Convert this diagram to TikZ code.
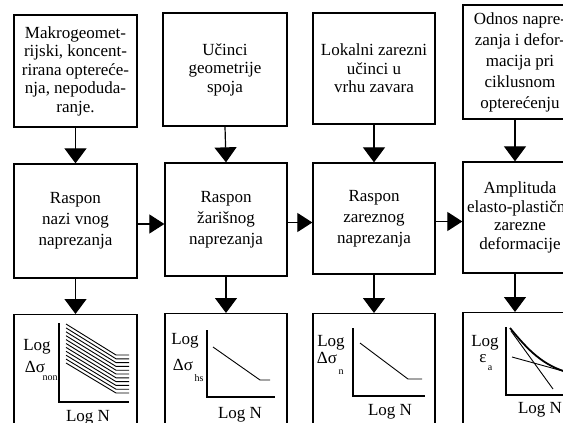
\documentclass[tikz,border=0pt]{standalone}
\usepackage{fontspec}
\setmainfont{Liberation Serif}
\usetikzlibrary{arrows.meta}
\begin{document}
\begin{tikzpicture}[x=1pt,y=-1pt,
  box/.style={draw,line width=1.3pt,align=center,inner sep=0pt,
    font=\fontsize{17}{18.5}\selectfont},
  boxb/.style={box,font=\fontsize{17}{21}\selectfont},
  arr/.style={line width=1.2pt,-{Triangle[width=22pt,length=15pt]}},
  harr/.style={line width=1.2pt,-{Triangle[width=19pt,length=15pt]}},
  lbl/.style={inner sep=0pt,font=\fontsize{17}{18}\selectfont},
  sub/.style={inner sep=0pt,font=\fontsize{10}{10}\selectfont},
  axis/.style={line width=1.4pt},
  crv/.style={line width=0.9pt}]
\useasboundingbox (0,0) rectangle (563,423);
\clip (0,0) rectangle (563,423);
% top row
\node[box,minimum width=123pt,minimum height=112pt] (b11) at (75.5,71)
  {Makrogeomet-\\rijski, koncent-\\rirana optereće-\\nja, nepoduda-\\ranje.};
\node[box,minimum width=124pt,minimum height=113pt] (b12) at (225,69.5)
  {Učinci\\geometrije\\spoja};
\node[box,minimum width=122pt,minimum height=111pt] (b13) at (374,68.5)
  {Lokalni zarezni\\učinci u\\vrhu zavara};
\node[box,font=\fontsize{17}{21}\selectfont,minimum width=114pt,minimum height=114pt] (b14) at (520,62)
  {Odnos napre-\\zanja i defor-\\macija pri\\ciklusnom\\opterećenju};
% middle row
\node[boxb,minimum width=123pt,minimum height=114pt] (b21) at (75.5,221)
  {Raspon\\nazi vnog\\naprezanja};
\node[boxb,minimum width=122pt,minimum height=113pt] (b22) at (226,219.5)
  {Raspon\\žarišnog\\naprezanja};
\node[boxb,minimum width=122pt,minimum height=111pt] (b23) at (374,218.5)
  {Raspon\\zareznog\\naprezanja};
\node[box,minimum width=114pt,minimum height=111pt] (b24) at (520,217.5)
  {Amplituda\\elasto-plastične\\zarezne\\deformacije};
% bottom row
\node[box,minimum width=123pt,minimum height=130pt,anchor=north] (b31) at (75.5,314) {};
\node[box,minimum width=122pt,minimum height=130pt,anchor=north] (b32) at (226,313) {};
\node[box,minimum width=122pt,minimum height=130pt,anchor=north] (b33) at (374,313) {};
\node[box,minimum width=114pt,minimum height=130pt,anchor=north] (b34) at (520,312) {};
% vertical arrows
\draw[arr] (b11.south) -- (b21.north);
\draw[arr] (b12.south) -- (b22.north);
\draw[arr] (b13.south) -- (b23.north);
\draw[arr] ([xshift=-5pt]b14.south) -- ([xshift=-5pt]b24.north);
\draw[arr] (b21.south) -- (b31.north);
\draw[arr] (b22.south) -- (b32.north);
\draw[arr] (b23.south) -- (b33.north);
\draw[arr] ([xshift=-5pt]b24.south) -- ([xshift=-5pt]b34.north);
% horizontal arrows
\draw[harr] ([yshift=-3pt]b21.east) -- ([yshift=-3pt]b21.east -| b22.west);
\draw[harr] ([yshift=-3pt]b22.east) -- ([yshift=-3pt]b22.east -| b23.west);
\draw[harr] ([yshift=-3pt]b23.east) -- ([yshift=-3pt]b23.east -| b24.west);
% plot 1
\draw[axis] (59,323) -- (59,402) -- (129,402);
\foreach \i in {0,...,10}
  \draw[crv] (66,324+3.9*\i) -- (116,355+3.8*\i) -- (129,355+3.8*\i);
\node[lbl] (p1a) at (37,347) {Log};
\node[lbl] (p1b) at (35,367) {Δσ};
\node[sub] (p1c) at (50,378) {non};
\node[lbl] (p1d) at (88,418) {Log N};
% plot 2
\draw[axis] (207,330) -- (207,397) -- (275,397);
\draw[crv] (213,347) -- (260,380) -- (270,380);
\node[lbl] (p2a) at (185,341) {Log};
\node[lbl] (p2b) at (183,365) {Δσ};
\node[sub] (p2c) at (199,378) {hs};
\node[lbl] (p2d) at (240,415) {Log N};
% plot 3
\draw[axis] (353,328) -- (353,396) -- (425,396);
\draw[crv] (360,343) -- (408,379) -- (422,379);
\node[lbl] (p3a) at (331,343) {Log};
\node[lbl] (p3b) at (327,358) {Δσ};
\node[sub] (p3c) at (341,372) {n};
\node[lbl] (p3d) at (390,412) {Log N};
% plot 4
\draw[axis] (506,327) -- (506,395) -- (570,395);
\draw[line width=1.8pt] (510,328) .. controls (528,350) and (543,366) .. (570,373);
\draw[crv] (511,331) -- (553,389);
\draw[crv] (512,357) -- (570,373);
\node[lbl] (p4a) at (485,343) {Log};
\node[lbl] (p4b) at (483,359) {ε};
\node[sub] (p4c) at (490,368) {a};
\node[lbl] (p4d) at (540,410) {Log N};
\end{tikzpicture}
\end{document}
